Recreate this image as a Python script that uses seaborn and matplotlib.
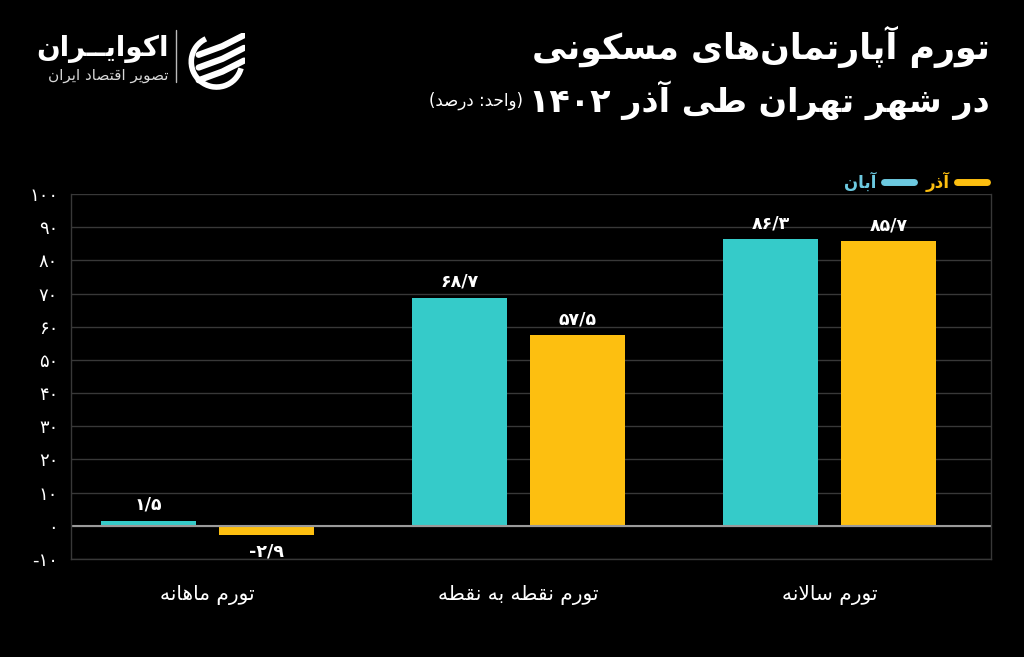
import matplotlib
matplotlib.use("Agg")
import matplotlib.pyplot as plt
import seaborn as sns
import pandas as pd
from matplotlib.lines import Line2D
from matplotlib.patches import Arc

# ---------------- data ----------------
categories = ['تورم ماهانه', 'تورم نقطه به نقطه', 'تورم سالانه']
series_names = ['آبان', 'آذر']
aban_values = [1.5, 68.7, 86.3]
azar_values = [-2.9, 57.5, 85.7]
y_ticks = [-10, 0, 10, 20, 30, 40, 50, 60, 70, 80, 90, 100]
title_line1 = 'تورم آپارتمان\u200cهای مسکونی'
title_line2 = 'در شهر تهران طی آذر ۱۴۰۲'
unit_text = '(واحد: درصد)'
brand_name = 'اکوایــران'
brand_sub = 'تصویر اقتصاد ایران'

colors = {'آبان': '#35CBC9', 'آذر': '#FDBF10'}
legend_colors = {'آبان': '#6CC9E0', 'آذر': '#FDBF10'}

# ---------------- simple Persian shaping ----------------
FORMS = {
    'ا': ('\uFE8D', '\uFE8E', None, None), 'آ': ('\uFE81', '\uFE82', None, None),
    'ب': ('\uFE8F', '\uFE90', '\uFE91', '\uFE92'), 'پ': ('\uFB56', '\uFB57', '\uFB58', '\uFB59'),
    'ت': ('\uFE95', '\uFE96', '\uFE97', '\uFE98'), 'ث': ('\uFE99', '\uFE9A', '\uFE9B', '\uFE9C'),
    'ج': ('\uFE9D', '\uFE9E', '\uFE9F', '\uFEA0'), 'چ': ('\uFB7A', '\uFB7B', '\uFB7C', '\uFB7D'),
    'ح': ('\uFEA1', '\uFEA2', '\uFEA3', '\uFEA4'), 'خ': ('\uFEA5', '\uFEA6', '\uFEA7', '\uFEA8'),
    'د': ('\uFEA9', '\uFEAA', None, None), 'ذ': ('\uFEAB', '\uFEAC', None, None),
    'ر': ('\uFEAD', '\uFEAE', None, None), 'ز': ('\uFEAF', '\uFEB0', None, None),
    'ژ': ('\uFB8A', '\uFB8B', None, None),
    'س': ('\uFEB1', '\uFEB2', '\uFEB3', '\uFEB4'), 'ش': ('\uFEB5', '\uFEB6', '\uFEB7', '\uFEB8'),
    'ص': ('\uFEB9', '\uFEBA', '\uFEBB', '\uFEBC'), 'ض': ('\uFEBD', '\uFEBE', '\uFEBF', '\uFEC0'),
    'ط': ('\uFEC1', '\uFEC2', '\uFEC3', '\uFEC4'), 'ظ': ('\uFEC5', '\uFEC6', '\uFEC7', '\uFEC8'),
    'ع': ('\uFEC9', '\uFECA', '\uFECB', '\uFECC'), 'غ': ('\uFECD', '\uFECE', '\uFECF', '\uFED0'),
    'ف': ('\uFED1', '\uFED2', '\uFED3', '\uFED4'), 'ق': ('\uFED5', '\uFED6', '\uFED7', '\uFED8'),
    'ک': ('\uFB8E', '\uFB8F', '\uFB90', '\uFB91'), 'گ': ('\uFB92', '\uFB93', '\uFB94', '\uFB95'),
    'ل': ('\uFEDD', '\uFEDE', '\uFEDF', '\uFEE0'), 'م': ('\uFEE1', '\uFEE2', '\uFEE3', '\uFEE4'),
    'ن': ('\uFEE5', '\uFEE6', '\uFEE7', '\uFEE8'), 'و': ('\uFEED', '\uFEEE', None, None),
    'ه': ('\uFEE9', '\uFEEA', '\uFEEB', '\uFEEC'), 'ی': ('\uFBFC', '\uFBFD', '\uFBFE', '\uFBFF'),
    '\u0640': ('\u0640', '\u0640', '\u0640', '\u0640'),
}


def _dual(c):
    return c in FORMS and FORMS[c][2] is not None


def _joining(c):
    return c in FORMS


def shape(s):
    out = []
    i = 0
    n = len(s)
    while i < n:
        c = s[i]
        p = s[i - 1] if i > 0 else ''
        nx = s[i + 1] if i + 1 < n else ''
        if c == '\u200c':
            i += 1
            continue
        if c not in FORMS:
            out.append(c)
            i += 1
            continue
        pj = _dual(p)
        if c == 'ل' and nx in ('ا', 'آ'):
            if nx == 'ا':
                out.append('\uFEFC' if pj else '\uFEFB')
            else:
                out.append('\uFEF6' if pj else '\uFEF5')
            i += 2
            continue
        nj = _dual(c) and _joining(nx)
        iso, fin, ini, med = FORMS[c]
        if pj and nj:
            out.append(med)
        elif pj:
            out.append(fin)
        elif nj:
            out.append(ini)
        else:
            out.append(iso)
        i += 1
    return ''.join(out)


def rtl(s):
    shaped = shape(s)
    runs = []
    cur = ''
    cur_num = None
    for ch in shaped:
        isnum = ch in '0123456789۰۱۲۳۴۵۶۷۸۹/.'
        if cur_num is None or isnum == cur_num:
            cur += ch
        else:
            runs.append((cur, cur_num))
            cur = ch
        cur_num = isnum
    if cur:
        runs.append((cur, cur_num))
    vis = []
    for txt, isnum in reversed(runs):
        if isnum:
            vis.append(txt)
        else:
            t = txt[::-1]
            t = t.replace('(', '\0').replace(')', '(').replace('\0', ')')
            vis.append(t)
    return ''.join(vis)


def fa_num(v):
    s = ('%g' % v).replace('.', '/')
    return s.translate(str.maketrans('0123456789', '۰۱۲۳۴۵۶۷۸۹'))


# ---------------- figure ----------------
sns.set_theme(style='dark')
plt.rcParams['font.family'] = ['DejaVu Sans']
BG = '#000000'
fig = plt.figure(figsize=(10.24, 6.57), dpi=100, facecolor=BG)
ax = fig.add_axes([0.069, 0.1492, 0.899, 0.5555])
ax.set_facecolor(BG)

df = pd.DataFrame({
    'category': categories * 2,
    'series': [series_names[0]] * 3 + [series_names[1]] * 3,
    'value': aban_values + azar_values,
})

sns.barplot(data=df, x='category', y='value', hue='series', hue_order=series_names,
            order=categories, palette=colors, width=0.76, gap=0.2,
            saturation=1, ax=ax, legend=False, linewidth=0, errorbar=None)

ax.set_ylim(-10, 100)
ax.set_xlim(-0.44, 2.52)
ax.set_yticks(y_ticks)
ax.set_yticklabels([fa_num(t) for t in y_ticks], color='white', fontsize=13)
ax.set_xticks(range(len(categories)))
ax.set_xticklabels([rtl(c) for c in categories], color='white', fontsize=14.5)
ax.tick_params(axis='both', length=0)
ax.tick_params(axis='y', pad=9)
ax.tick_params(axis='x', pad=19)
ax.set_xlabel('')
ax.set_ylabel('')
ax.grid(axis='y', color='#383838', linewidth=1)
ax.grid(axis='x', visible=False)
ax.set_axisbelow(True)
for side in ['left', 'right', 'bottom']:
    ax.spines[side].set_visible(True)
    ax.spines[side].set_color('#383838')
    ax.spines[side].set_linewidth(1)
ax.spines['top'].set_visible(False)
ax.axhline(0, color='#9a9a9a', linewidth=1.5, zorder=1.5)

for container, vals in zip(ax.containers, [aban_values, azar_values]):
    ax.bar_label(container, labels=[fa_num(v) for v in vals], padding=5,
                 color='white', fontsize=12.5, fontweight='bold')

# legend (RTL: text then line)
handles = [Line2D([], [], color=legend_colors[s], linewidth=5, solid_capstyle='round')
           for s in series_names]
leg = fig.legend(handles, [rtl(s) for s in series_names], loc='upper right',
                 bbox_to_anchor=(0.979, 0.762), ncol=2, frameon=False,
                 markerfirst=False, fontsize=12, handlelength=1.8,
                 columnspacing=0.7, handletextpad=0.45)
for txt, s in zip(leg.get_texts(), series_names):
    txt.set_color(legend_colors[s])
    txt.set_fontweight('bold')

# titles
fig.text(0.967, 0.928, rtl(title_line1), ha='right', va='center', color='white',
         fontsize=25, fontweight='bold')
t2 = fig.text(0.967, 0.848, rtl(title_line2), ha='right', va='center', color='white',
              fontsize=24, fontweight='bold')
ax.annotate(rtl(unit_text), xy=(0, 0.5), xycoords=t2, xytext=(-5, -1),
            textcoords='offset points', ha='right', va='center', color='white',
            fontsize=12, annotation_clip=False)

# brand
fig.text(0.165, 0.925, rtl(brand_name), ha='right', va='center', color='white',
         fontsize=20, fontweight='bold')
fig.text(0.165, 0.885, rtl(brand_sub), ha='right', va='center', color='#d8d8d8',
         fontsize=11)
fig.add_artist(Line2D([0.172, 0.172], [0.875, 0.955], color='#bbbbbb', linewidth=1,
                      transform=fig.transFigure))
logo_ax = fig.add_axes([0.183, 0.862, 0.057, 0.088])
logo_ax.set_xlim(-1, 1)
logo_ax.set_ylim(-1, 1)
logo_ax.set_aspect('equal')
logo_ax.axis('off')
logo_ax.add_patch(Arc((0, 0), 1.75, 1.75, theta1=115, theta2=345, edgecolor='white',
                      linewidth=4))
for dy in (0.42, -0.02, -0.46):
    logo_ax.plot([-0.62, 0.2, 0.95], [dy - 0.18, dy + 0.12, dy + 0.5], color='white',
                 linewidth=4.5, solid_capstyle='round')

fig.savefig('out.png', dpi=100, facecolor=BG)
